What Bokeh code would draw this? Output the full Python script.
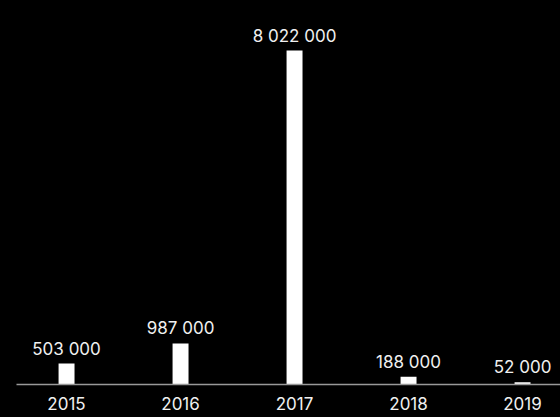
from bokeh.plotting import figure
from bokeh.models import ColumnDataSource, FixedTicker, Range1d
from bokeh.core.properties import value
from bokeh.embed import file_html
from bokeh.resources import INLINE

years = [2015, 2016, 2017, 2018, 2019]
values = [503000, 987000, 8022000, 188000, 52000]
labels = ["503 000", "987 000", "8 022 000", "188 000", "52 000"]
tick_labels = {2015: "2015", 2016: "2016", 2017: "2017", 2018: "2018", 2019: "2019"}

src = ColumnDataSource(dict(x=years, top=values, label=labels))

p = figure(
    frame_width=544, frame_height=384,
    output_backend="svg", toolbar_location=None,
    x_range=Range1d(2014.561, 2019.333), y_range=Range1d(0, 9223000),
    min_border_left=16, min_border_right=0, min_border_top=0, min_border_bottom=33,
    background_fill_color="#000000", border_fill_color="#000000",
)
p.outline_line_color = None
p.grid.visible = False
p.yaxis.visible = False

p.vbar(x="x", top="top", bottom=0, width=0.14, source=src,
       fill_color="#ffffff", line_color=None)

p.text(x="x", y="top", text="label", source=src, y_offset=-5,
       text_align="center", text_baseline="bottom",
       text_font=value("Inter"), text_font_size="17px", text_color="#f0f0f0")

xa = p.xaxis[0]
xa.ticker = FixedTicker(ticks=years)
xa.major_label_overrides = tick_labels
xa.axis_line_color = "#999999"
xa.axis_line_width = 1.5
xa.major_tick_line_color = None
xa.minor_tick_line_color = None
xa.major_tick_out = 0
xa.major_tick_in = 0
xa.major_label_standoff = 12
xa.major_label_text_font = "Inter"
xa.major_label_text_font_size = "17px"
xa.major_label_text_color = "#f0f0f0"

html = file_html(p, INLINE)
html = html.replace("</head>", "<style>html, body { background-color: #000000 !important; }</style></head>", 1)
open("out.html", "w").write(html)
